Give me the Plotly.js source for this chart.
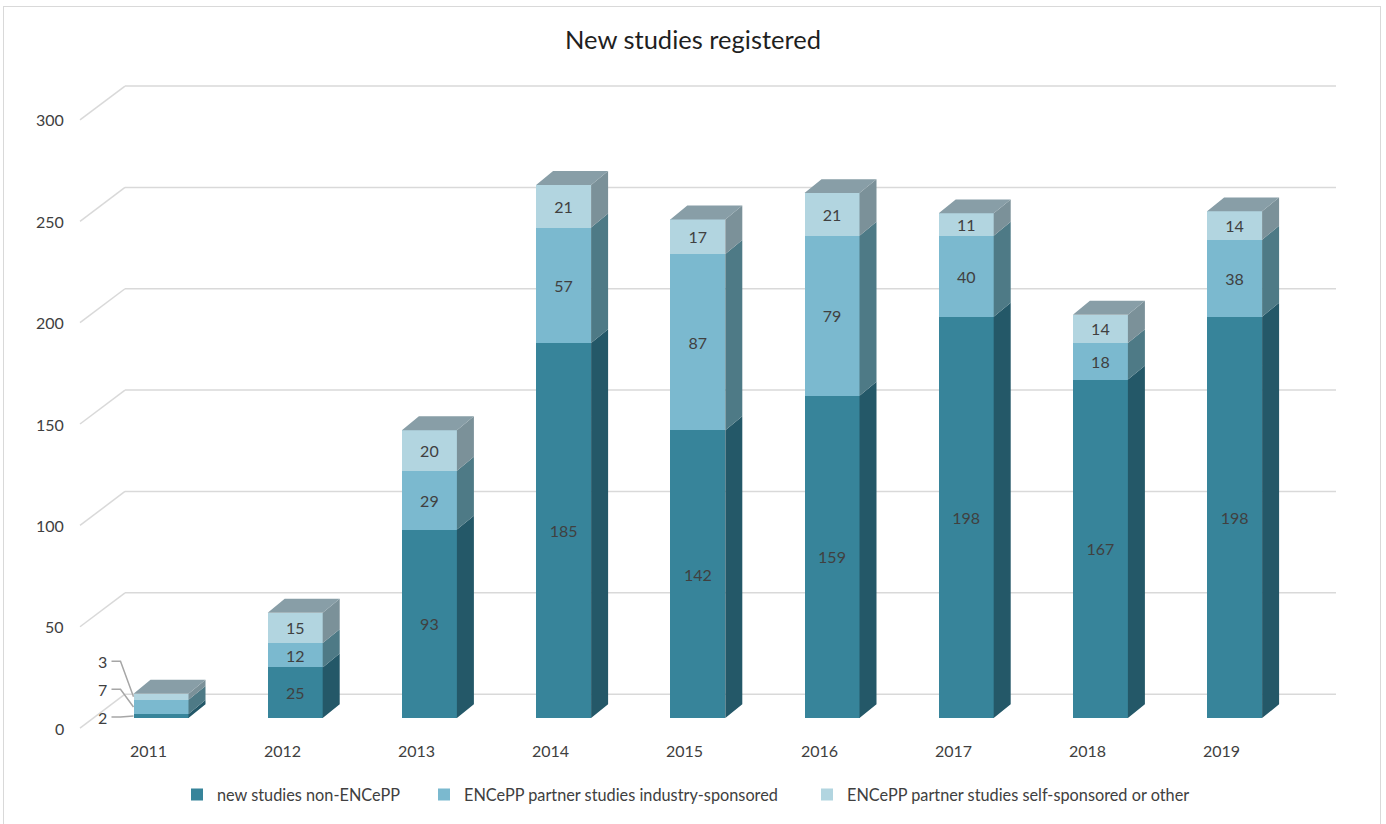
<!DOCTYPE html>
<html>
<head>
<meta charset="utf-8">
<script src="https://cdn.plot.ly/plotly-3.0.1.min.js"></script>
<style>
  html, body { margin: 0; padding: 0; background: #ffffff; }
  #wrap { position: relative; width: 1386px; height: 824px; overflow: hidden; }
  #frame { position: absolute; left: 3px; top: 6px; width: 1378px; height: 830px; border: 1px solid #d9d9d9; box-sizing: border-box; pointer-events: none; }
  #chart { position: absolute; left: 0; top: 0; width: 1386px; height: 824px; }
</style>
</head>
<body>
<div id="wrap">
  <div id="chart"></div>
  <div id="frame"></div>
</div>
<script>
// ---------------- data ----------------
const years = ['2011', '2012', '2013', '2014', '2015', '2016', '2017', '2018', '2019'];
const nonEncepp = [2, 25, 93, 185, 142, 159, 198, 167, 198];
const industrySponsored = [7, 12, 29, 57, 87, 79, 40, 18, 38];
const selfSponsored = [3, 15, 20, 21, 17, 21, 11, 14, 14];
const seriesNames = ['new studies non-ENCePP', 'ENCePP partner studies industry-sponsored', 'ENCePP partner studies self-sponsored or other'];
const yTicks = [0, 50, 100, 150, 200, 250, 300];

// ---------------- geometry / style ----------------
const W = 1386, H = 824;
const M = { l: 70, r: 46, t: 70, b: 64 };
const plotW = W - M.l - M.r, plotH = H - M.t - M.b;
const PX = 134.2;      // px per category
const PY = 2.033;      // px per unit
const X0PX = 161;      // pixel x of first bar centre
const Y0PX = 720;      // pixel y of zero at bar front
const barW = 55 / PX;
const depthX = 17 / PX, depthY = 14 / PY;           // bar depth
const wallX = 45 / PX, wallY = 34 / PY;             // wall depth (front plane to back wall)
const frontOffY = -10 / PY;                         // front plane zero relative to bar front
const xRange = [(M.l - X0PX) / PX, (W - M.r - X0PX) / PX];
const yRange = [(Y0PX - (H - M.b)) / PY, (Y0PX - M.t) / PY];
const txt = '#404040';
const font = 'Lato, "Open Sans", sans-serif';

const series = [nonEncepp, industrySponsored, selfSponsored];
const frontCols = ['#37849a', '#7bb9cf', '#b2d5e0'];
const sideCols = ['#245868', '#4e7a86', '#7b9199'];
const topCol = '#889ea7';
const idx = years.map((_, i) => i);
const legendIds = ['legend', 'legend2', 'legend3'];
const legendTextPx = [215, 462, 845];

const traces = [];
// front faces (stacked bars)
series.forEach((vals, s) => {
  traces.push({
    type: 'bar', x: idx, y: vals, name: seriesNames[s], width: barW, legend: legendIds[s],
    marker: { color: frontCols[s], line: { width: 0 } },
    text: vals.map((v, i) => i === 0 ? '' : String(v)),
    textposition: 'inside', insidetextanchor: 'middle', constraintext: 'none', textangle: 0,
    textfont: { family: font, size: 16, color: txt },
    hoverinfo: 'x+y'
  });
});
// side faces
series.forEach((vals, s) => {
  const xs = [], ys = [];
  vals.forEach((v, i) => {
    let base = 0; for (let k = 0; k < s; k++) base += series[k][i];
    const xr = i + barW / 2, y0 = base, y1 = base + v;
    xs.push(xr, xr + depthX, xr + depthX, xr, xr, null);
    ys.push(y0, y0 + depthY, y1 + depthY, y1, y0, null);
  });
  traces.push({ type: 'scatter', mode: 'lines', x: xs, y: ys, fill: 'toself', fillcolor: sideCols[s],
    line: { width: 0, color: sideCols[s] }, showlegend: false, hoverinfo: 'skip' });
});
// top faces
{
  const xs = [], ys = [];
  idx.forEach(i => {
    const top = nonEncepp[i] + industrySponsored[i] + selfSponsored[i];
    const xl = i - barW / 2, xr = i + barW / 2;
    xs.push(xl, xl + depthX, xr + depthX, xr, xl, null);
    ys.push(top, top + depthY, top + depthY, top, top, null);
  });
  traces.push({ type: 'scatter', mode: 'lines', x: xs, y: ys, fill: 'toself', fillcolor: topCol,
    line: { width: 0, color: topCol }, showlegend: false, hoverinfo: 'skip' });
}

// gridlines on back wall + diagonal on side wall
const shapes = [];
const gridCol = '#d9d9d9';
const frontLeftX = (80 - X0PX) / PX;
const backLeftX = frontLeftX + wallX;
yTicks.forEach(v => {
  const fy = v + frontOffY, by = v + frontOffY + wallY;
  shapes.push({ type: 'line', xref: 'x', yref: 'y', x0: frontLeftX, y0: fy, x1: backLeftX, y1: by,
    line: { color: gridCol, width: 1.5 }, layer: 'below' });
  shapes.push({ type: 'line', xref: 'x', yref: 'y', x0: backLeftX, y0: by, x1: (1336 - X0PX) / PX, y1: by,
    line: { color: gridCol, width: 1.5 }, layer: 'below' });
});

const annotations = [];
// y tick labels (front plane)
yTicks.forEach(v => {
  annotations.push({ xref: 'paper', yref: 'y', x: (66 - M.l) / plotW, y: v + frontOffY, text: String(v),
    xanchor: 'right', yanchor: 'middle', showarrow: false, font: { family: font, size: 16, color: txt } });
});
// category labels
years.forEach((yr, i) => {
  annotations.push({ xref: 'x', yref: 'y', x: i - 13 / PX, y: -32 / PY, text: yr,
    xanchor: 'center', yanchor: 'middle', showarrow: false, font: { family: font, size: 16, color: txt } });
});
// 2011 labels with leader lines
{
  const labelYs = [(Y0PX - 719) / PY, (Y0PX - 691) / PY, (Y0PX - 663) / PY];
  let base = 0;
  series.forEach((vals, s) => {
    const v = vals[0];
    const cy = base + v / 2; base += v;
    const xl = 0 - barW / 2;
    const elbowX = xl - 13 / PX, endX = xl - 22 / PX;
    shapes.push({ type: 'path', xref: 'x', yref: 'y',
      path: `M ${xl} ${cy} L ${elbowX} ${labelYs[s]} L ${endX} ${labelYs[s]}`,
      line: { color: '#a6a6a6', width: 1.5 } });
    annotations.push({ xref: 'x', yref: 'y', x: endX - 3 / PX, y: labelYs[s], text: String(v),
      xanchor: 'right', yanchor: 'middle', showarrow: false, font: { family: font, size: 16, color: txt } });
  });
}

const layout = {
  width: W, height: H,
  margin: M,
  paper_bgcolor: 'rgba(0,0,0,0)', plot_bgcolor: 'rgba(0,0,0,0)',
  barmode: 'stack',
  uniformtext: { mode: 'show', minsize: 16 },
  title: { text: 'New studies registered', x: 0.5, xref: 'container', y: 1 - 40 / H, yref: 'container', yanchor: 'middle',
    font: { family: font, size: 25.5, color: '#1f1f1f' } },
  xaxis: { range: xRange, showgrid: false, zeroline: false, showticklabels: false, showline: false, fixedrange: true },
  yaxis: { range: yRange, showgrid: false, zeroline: false, showticklabels: false, showline: false, fixedrange: true },
  showlegend: true,
  shapes: shapes,
  annotations: annotations
};
legendIds.forEach((id, s) => {
  layout[id] = { orientation: 'h', x: (legendTextPx[s] - 38 - M.l) / plotW, xanchor: 'left',
    y: ((H - M.b) - 797) / plotH, yanchor: 'middle', bgcolor: 'rgba(0,0,0,0)',
    font: { family: font, size: 16.3, color: txt }, itemwidth: 30 };
});

Plotly.newPlot('chart', traces, layout, { displayModeBar: false, staticPlot: true });
</script>
</body>
</html>
